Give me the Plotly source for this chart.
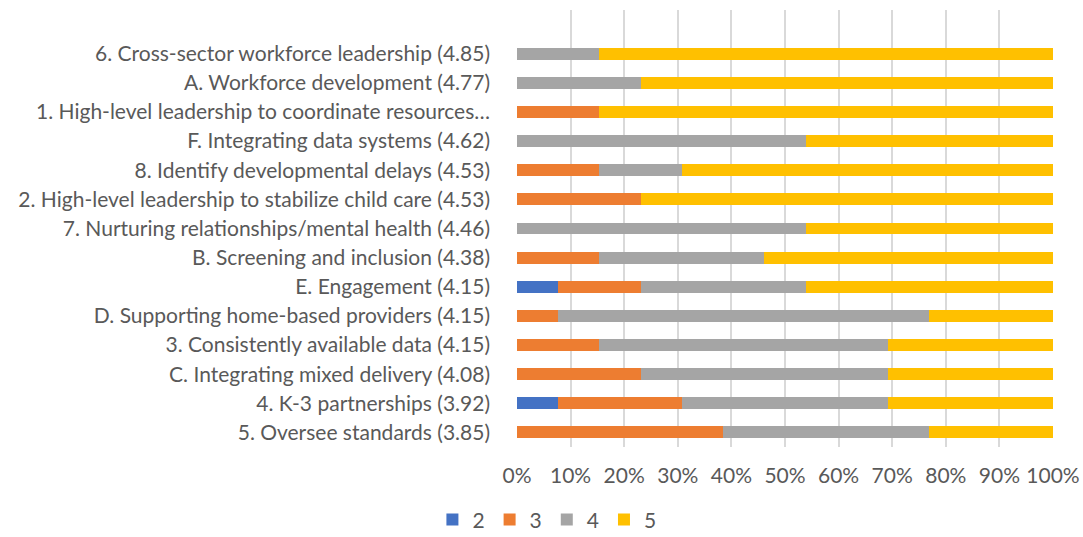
import plotly.graph_objects as go

# categories, top to bottom
labels = [
    "6. Cross-sector workforce leadership (4.85)",
    "A. Workforce development (4.77)",
    "1. High-level leadership to coordinate resources…",
    "F. Integrating data systems (4.62)",
    "8. Identify developmental delays (4.53)",
    "2. High-level leadership to stabilize child care (4.53)",
    "7. Nurturing relationships/mental health (4.46)",
    "B. Screening and inclusion (4.38)",
    "E. Engagement (4.15)",
    "D. Supporting home-based providers (4.15)",
    "3. Consistently available data (4.15)",
    "C. Integrating mixed delivery (4.08)",
    "4. K-3 partnerships (3.92)",
    "5. Oversee standards (3.85)",
]

# response counts per rating (13 respondents)
r2 = [0, 0, 0, 0, 0, 0, 0, 0, 1, 0, 0, 0, 1, 0]
r3 = [0, 0, 2, 0, 2, 3, 0, 2, 2, 1, 2, 3, 3, 5]
r4 = [2, 3, 0, 7, 2, 0, 7, 4, 4, 9, 7, 6, 5, 5]
r5 = [11, 10, 11, 6, 9, 10, 6, 7, 6, 3, 4, 4, 4, 3]

series = [("2", r2, "#4472C4"), ("3", r3, "#ED7D31"),
          ("4", r4, "#A5A5A5"), ("5", r5, "#FFC000")]

fig = go.Figure()
for name, vals, col in series:
    fig.add_trace(go.Bar(
        y=labels, x=vals, name=name, orientation="h",
        marker=dict(color=col, line=dict(width=0)),
    ))

font = "Lato, Open Sans, sans-serif"
grey = "#595959"

fig.update_layout(
    barmode="stack",
    barnorm="percent",
    bargap=0.59,
    width=1083, height=537,
    margin=dict(l=517, r=30, t=10, b=90, autoexpand=False),
    plot_bgcolor="white",
    paper_bgcolor="white",
    font=dict(family=font, size=21, color=grey),
    legend=dict(
        orientation="h", x=0.505, xanchor="center", xref="container",
        y=0.032, yanchor="middle", yref="container",
        font=dict(size=21, color=grey), traceorder="normal",
        itemwidth=30,
    ),
    showlegend=True,
)

fig.update_xaxes(
    range=[0, 100], dtick=10, ticksuffix="%",
    showgrid=True, gridcolor="#d9d9d9", gridwidth=1.5,
    zeroline=False, showline=False, ticks="",
    ticklabelstandoff=14,
    tickfont=dict(size=21, color=grey),
)

fig.update_yaxes(
    categoryorder="array", categoryarray=labels,
    range=[13.5, -1.5],
    showgrid=False, zeroline=False, showline=False, ticks="",
    ticklabelstandoff=26, automargin=False,
    tickfont=dict(size=21, color=grey),
)

fig.write_html("out.html", config={"displayModeBar": False},
               post_script="document.body.style.margin='0';")
